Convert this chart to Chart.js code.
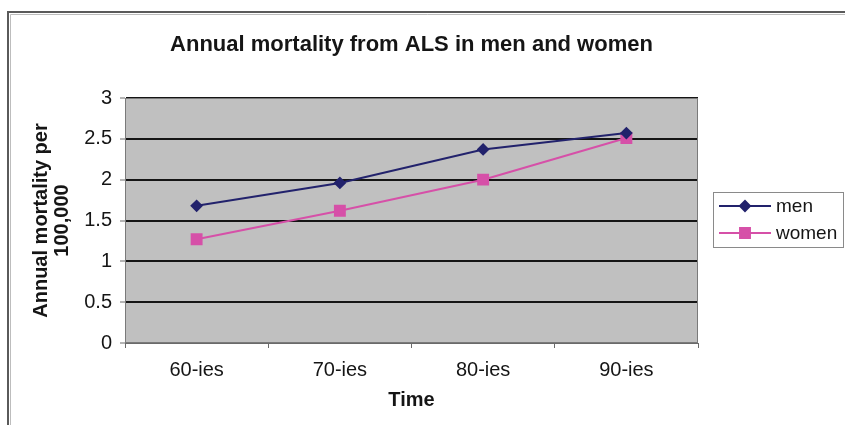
<!DOCTYPE html>
<html>
<head>
<meta charset="utf-8">
<script src="https://cdn.jsdelivr.net/npm/chart.js@4/dist/chart.umd.min.js"></script>
<style>
  html,body{margin:0;padding:0;background:#fff;}
  #wrap{width:845px;height:425px;position:relative;}
</style>
</head>
<body>
<div id="wrap"><canvas id="c" width="845" height="425"></canvas></div>
<script>
// ── data ─────────────────────────────────────────────
const categories  = ['60-ies','70-ies','80-ies','90-ies'];
const menValues   = [1.68, 1.96, 2.37, 2.57];
const womenValues = [1.27, 1.62, 2.00, 2.51];
const chartTitle  = 'Annual mortality from ALS in men and women';
const yTitle      = ['Annual mortality per','100,000'];
const xTitle      = 'Time';

const FONT = '"Liberation Sans", Arial, sans-serif';
const TXT  = '#151515';

// frame, plot fill, title and the Excel-style legend
const excelLook = {
  id:'excelLook',
  beforeDraw(chart){
    const {ctx, chartArea:a} = chart;
    ctx.save();
    ctx.fillStyle='#fff'; ctx.fillRect(0,0,chart.width,chart.height);
    // outer frame (top + left visible)
    ctx.strokeStyle='#5a5a5a'; ctx.lineWidth=2;
    ctx.beginPath(); ctx.moveTo(845,12); ctx.lineTo(8,12); ctx.lineTo(8,425); ctx.stroke();
    ctx.strokeStyle='#bdbdbd'; ctx.lineWidth=1;
    ctx.beginPath(); ctx.moveTo(845,14.5); ctx.lineTo(10.5,14.5); ctx.lineTo(10.5,425); ctx.stroke();
    // plot area
    ctx.fillStyle='#c0c0c0';
    ctx.fillRect(a.left,a.top,a.right-a.left,a.bottom-a.top);
    ctx.restore();
  },
  afterDatasetsDraw(chart){
    const {ctx, chartArea:a} = chart;
    ctx.save();
    ctx.strokeStyle='#7a7a7a'; ctx.lineWidth=1;
    ctx.strokeRect(a.left+0.5,a.top+0.5,a.right-a.left-1,a.bottom-a.top-1);
    ctx.restore();
  },
  afterDraw(chart){
    const {ctx, chartArea:a} = chart;
    ctx.save();
    // title
    ctx.fillStyle=TXT;
    ctx.font='bold 22px '+FONT;
    ctx.textAlign='center'; ctx.textBaseline='middle';
    ctx.fillText(chartTitle,(a.left+a.right)/2,45);
    // legend
    const bx=713, by=192, bw=130, bh=55;
    ctx.fillStyle='#fff'; ctx.fillRect(bx,by,bw,bh);
    ctx.strokeStyle='#8a8a8a'; ctx.lineWidth=1;
    ctx.strokeRect(bx+0.5,by+0.5,bw,bh);
    ctx.font='19px '+FONT; ctx.textAlign='left';
    chart.data.datasets.forEach((ds,i)=>{
      const y=206+i*27;
      ctx.strokeStyle=ds.borderColor; ctx.lineWidth=ds.borderWidth;
      ctx.beginPath(); ctx.moveTo(719,y); ctx.lineTo(771,y); ctx.stroke();
      ctx.fillStyle=ds.pointBackgroundColor; ctx.strokeStyle=ds.pointBorderColor;
      Chart.helpers.drawPoint(ctx,{pointStyle:ds.pointStyle,radius:ds.pointRadius,borderWidth:1,rotation:0},745,y);
      ctx.fillStyle=TXT;
      ctx.fillText(ds.label,776,y+1);
    });
    ctx.restore();
  }
};

new Chart(document.getElementById('c'),{
  type:'line',
  data:{
    labels:categories,
    datasets:[
      {label:'men', data:menValues, borderColor:'#22226c', borderWidth:2,
       pointStyle:'rectRot', pointRadius:5, pointHoverRadius:5,
       pointBackgroundColor:'#22226c', pointBorderColor:'#22226c', tension:0},
      {label:'women', data:womenValues, borderColor:'#d650a8', borderWidth:2,
       pointStyle:'rect', pointRadius:7, pointHoverRadius:7,
       pointBackgroundColor:'#d650a8', pointBorderColor:'#d650a8', tension:0}
    ]
  },
  options:{
    responsive:false, animation:false,
    layout:{padding:{top:98,left:22,right:147,bottom:0}},
    plugins:{legend:{display:false}, title:{display:false}, tooltip:{enabled:false}},
    scales:{
      x:{
        offset:true,
        grid:{offset:true, drawOnChartArea:false, drawTicks:true, tickLength:5, color:'#6a6a6a'},
        border:{display:true,color:'#6a6a6a'},
        ticks:{color:TXT, font:{family:FONT,size:20}, padding:10, maxRotation:0},
        title:{display:true, text:xTitle, color:TXT, font:{family:FONT,size:20,weight:'bold'}, padding:{top:0,bottom:13}},
        afterFit:s=>{ s.height=82; }
      },
      y:{
        min:0, max:3,
        grid:{color:'#151515', lineWidth:2, tickLength:5, tickColor:'#6a6a6a', tickWidth:1},
        border:{display:true,color:'#6a6a6a'},
        ticks:{stepSize:0.5, color:TXT, font:{family:FONT,size:20}, padding:8,
               callback:v=>String(+v.toFixed(2))},
        title:{display:true, text:yTitle, color:TXT, font:{family:FONT,size:20,weight:'bold',lineHeight:1.05}, padding:{top:9,bottom:0}},
        afterFit:s=>{ s.width=103; }
      }
    }
  },
  plugins:[excelLook]
});
</script>
</body>
</html>
